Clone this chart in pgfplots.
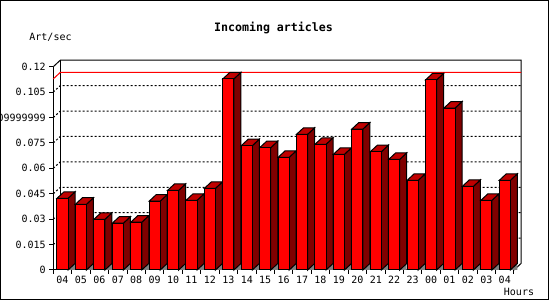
\documentclass[border=0pt]{standalone}
\usepackage{pgfplots}
\pgfplotsset{compat=1.18}
\usepackage{pgfplotstable}
\usepackage{fontspec}
\setmonofont{DejaVu Sans Mono}
\definecolor{barfront}{RGB}{255,0,0}
\definecolor{bartop}{RGB}{192,0,0}
\definecolor{barside}{RGB}{128,0,0}
\definecolor{shadowgray}{RGB}{128,128,128}

% hourly incoming articles (Art/sec), bars in order 04 ... 23, 00 ... 04
\pgfplotstableread{
idx v
0 0.0423
1 0.0388
2 0.0299
3 0.0276
4 0.0282
5 0.0406
6 0.0470
7 0.0411
8 0.0482
9 0.1128
10 0.0734
11 0.0722
12 0.0665
13 0.0801
14 0.0742
15 0.0683
16 0.0832
17 0.0698
18 0.0653
19 0.0529
20 0.1122
21 0.0956
22 0.0494
23 0.0411
24 0.0529
}\artdata

\newcommand\dxu{0.38}
\newcommand\dyv{0.00384}

\begin{document}
\begin{tikzpicture}[x=1pt,y=1pt]
\useasboundingbox (0,0) rectangle (550,300);
\clip (0,0) rectangle (550,300);
\fill[white] (0,0) rectangle (550,300);
\draw[line width=1pt] (0.5,0.5) rectangle (548.5,299.5);
\node[font=\ttfamily\bfseries\fontsize{11.6}{13}\selectfont] at (273.5,272.5) {Incoming articles};
\node[font=\ttfamily\fontsize{10}{12}\selectfont] at (50.5,263) {Art/sec};
\node[font=\ttfamily\fontsize{10}{12}\selectfont] at (519,8) {Hours};
\begin{axis}[
  at={(53.3pt,30pt)}, anchor=south west,
  scale only axis, width=460.7pt, height=203.3pt,
  xmin=-0.5, xmax=24.5, ymin=0, ymax=0.12,
  clip=false,
  axis lines*=left,
  axis line style={line width=1pt},
  tick align=outside, major tick length=4pt,
  tick style={black, line width=1pt},
  xtick={-0.5,0.5,...,24.5},
  xticklabels={04,05,06,07,08,09,10,11,12,13,14,15,16,17,18,19,20,21,22,23,00,01,02,03,04,{}},
  xticklabel style={xshift=9.2pt, yshift=1.5pt},
  ytick={0,0.015,0.03,0.045,0.06,0.075,0.09,0.105,0.12},
  yticklabels={0,0.015,0.03,0.045,0.06,0.075,0.09999999,0.105,0.12},
  tick label style={font=\ttfamily\fontsize{10}{12}\selectfont},
]
% back frame
\draw[line width=1pt] (axis cs:-0.5,0.12) -- (axis cs:-0.12,0.12384) -- (axis cs:24.88,0.12384) -- (axis cs:24.88,0.00384) -- (axis cs:24.5,0);
\draw[line width=1pt] (axis cs:-0.12,0.12384) -- (axis cs:-0.12,0.00384);
% grid on the back wall
\pgfplotsinvokeforeach{0.015,0.03,0.045,0.06,0.075,0.09,0.105}{
  \draw[black, line width=1pt, dash pattern=on 2pt off 2pt] (axis cs:-0.5,#1) -- (axis cs:-0.12,#1+0.00384) -- (axis cs:24.88,#1+0.00384);
}
% maximum line
\draw[red, line width=1pt] (axis cs:-0.5,0.1128) -- (axis cs:-0.12,0.11664) -- (axis cs:24.88,0.11664);
% 3D bars
\pgfplotsinvokeforeach{0,...,24}{
  \pgfplotstablegetelem{#1}{v}\of\artdata
  \pgfmathsetmacro\V{\pgfplotsretval}
  \pgfmathsetmacro\VT{\V+\dyv}
  \pgfmathsetmacro\XL{#1-0.3}
  \pgfmathsetmacro\XR{#1+0.3}
  \pgfmathsetmacro\XLB{\XL+\dxu}
  \pgfmathsetmacro\XRB{\XR+\dxu}
  \edef\doit{%
    \noexpand\addplot[fill=shadowgray, draw=none] coordinates {(\XR,0) (\XRB,\dyv) (\XRB,0)} -- cycle;
    \noexpand\addplot[fill=barside, draw=black, line width=1pt] coordinates {(\XR,0) (\XRB,\dyv) (\XRB,\VT) (\XR,\V)} -- cycle;
    \noexpand\addplot[fill=bartop, draw=black, line width=1pt] coordinates {(\XL,\V) (\XR,\V) (\XRB,\VT) (\XLB,\VT)} -- cycle;
    \noexpand\addplot[fill=barfront, draw=black, line width=1pt] coordinates {(\XL,0) (\XR,0) (\XR,\V) (\XL,\V)} -- cycle;
  }\doit
}
\end{axis}
\end{tikzpicture}
\end{document}
